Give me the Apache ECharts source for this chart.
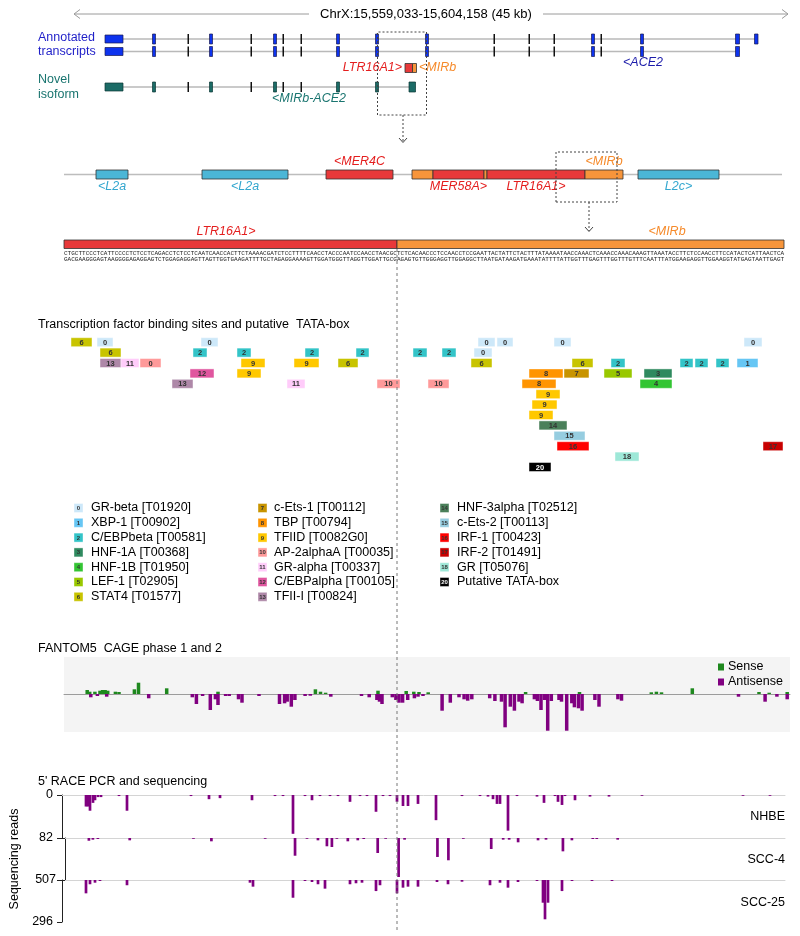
<!DOCTYPE html>
<html>
<head>
<meta charset="utf-8">
<title>ACE2 locus</title>
<script src="https://cdn.jsdelivr.net/npm/echarts@6.0.0/dist/echarts.min.js"></script>
<style>
html,body{margin:0;padding:0;background:#fff;}
#chart{width:800px;height:936px;}
</style>
</head>
<body>
<div id="chart"></div>
<script>
// ================= DATA =================
const regionLabel = 'ChrX:15,559,033-15,604,158 (45 kb)';
// exons [start, end] along the locus (x units)
const annotatedA = [[105,123],[152.5,155.5],[187.5,189],[209.5,212.5],[250.5,252],[273.5,276.5],[282.5,284],[300.5,302],[336.5,339.5],[375.5,378.5],[425.5,428.5],[493.5,495],[528.5,530],[553.5,555],[591.5,594.5],[600.5,602],[640.5,643.5],[735.5,739.5],[754.5,758]];
const annotatedB = [[105,123],[152.5,155.5],[187.5,189],[209.5,212.5],[250.5,252],[273.5,276.5],[282.5,284],[300.5,302],[336.5,339.5],[375.5,378.5],[425.5,428.5],[493.5,495],[528.5,530],[553.5,555],[591.5,594.5],[600.5,602],[640.5,643.5],[735.5,739.5]];
const novelIsoform = [[105,123],[152.5,155.5],[187.5,189],[209.5,212.5],[250.5,252],[273.5,276.5],[282.5,284],[300.5,302],[336.5,339.5],[375.5,378.5],[409,415.5]];
const locusRepeatStart = [405, 412.5];
const locusRepeatEnd = [412.5, 416.5];
const locusRepeatClass = ['LTR', 'MIR'];

// repeat elements (zoom 1)
const repeatStart = [96, 202, 326, 412, 433, 484, 487, 585, 638];
const repeatEnd   = [128, 288, 393, 433, 484, 487, 585, 623, 719];
const repeatClass = ['L2','L2','LTR','MIR','LTR','MIR','LTR','MIR','L2'];
const repeatName  = ['<L2a','<L2a','<MER4C','','MER58A>','','LTR16A1>','<MIRb','L2c>'];
const repeatSide  = ['below','below','above','','below','','below','above','below'];

// sequence level (zoom 2)
const seqBarStart = [64, 397];
const seqBarEnd = [397, 784];
const seqBarClass = ['LTR', 'MIR'];
const seqBarName = ['LTR16A1>', '<MIRb'];
const seqBarLabelAt = [226, 667];
const seqTop = 'CTGCTTCCCTCATTCCCCTCTCCTCAGACCTCTCCTCAATCAACCACTTCTAAAACGATCTCCTTTTCAACCTACCCAATCCAACCTAACGCTCTCACAACCCTCCAACCTCCGAATTACTATTCTACTTTATAAAATAACCAAACTCAAACCAAACAAAGTTAAATACCTTCTCCAACCTTCCATACTCATTAACTCA';

// transcription factor binding sites: [start, end, row, type, (shown label)]
const tfSites = [
 [71,92,0,6],[97,113,0,0],[201,218,0,0],[478,495,0,0],[497,513,0,0],[554,571,0,0],[744,762,0,0],
 [100,121,1,6],[193,207,1,2],[237,251,1,2],[305,319,1,2],[356,369,1,2],[413,427,1,2],[442,456,1,2],[474,492,1,0],
 [100,121,2,13],[121,139,2,11],[140,161,2,10,'0'],[241,265,2,9],[294,319,2,9],[338,358,2,6],[471,492,2,6],[572,593,2,6],[611,625,2,2],[680,693,2,2],[695,708,2,2],[716,729,2,2],[737,758,2,1],
 [190,214,3,12],[237,261,3,9],[529,563,3,8],[564,589,3,7],[604,632,3,5],[644,672,3,3],
 [172,193,4,13],[287,305,4,11],[377,400,4,10],[428,449,4,10],[522,556,4,8],[640,672,4,4],
 [536,560,5,9],[532,557,6,9],[529,553,7,9],[539,567,8,14],[554,585,9,15],
 [557,589,10,16],[763,783,10,17],[615,639,11,18],[529,551,12,20]
];
const tfRows = ['0','1','2','3','4','5','6','7','8','9','10','11','12'];
const tfLegendTypes = [0,1,2,3,4,5,6,7,8,9,10,11,12,13,14,15,16,17,18,20];
const tfLegendNames = ['GR-beta [T01920]','XBP-1 [T00902]','C/EBPbeta [T00581]','HNF-1A [T00368]','HNF-1B [T01950]','LEF-1 [T02905]','STAT4 [T01577]',
 'c-Ets-1 [T00112]','TBP [T00794]','TFIID [T0082G0]','AP-2alphaA [T00035]','GR-alpha [T00337]','C/EBPalpha [T00105]','TFII-I [T00824]',
 'HNF-3alpha [T02512]','c-Ets-2 [T00113]','IRF-1 [T00423]','IRF-2 [T01491]','GR [T05076]','Putative TATA-box'];

// FANTOM5 CAGE
const cageSensePos = [87.2,89.7,94.9,100,102.6,105.1,107.7,115.4,119,134.4,138.5,166.7,218,315.4,320.5,325.6,378,406.2,413.8,419,428.2,525.6,579.5,651.3,656.4,661.5,692.3,759,769.2,787.2];
const cageSenseVal = [4,2.3,2.3,3.3,4,4,3.3,2.3,2,4.7,11.3,5.7,2.3,4.7,2.3,1.3,3.3,3,2.3,2,1.7,2,2,1.7,2.3,1.7,5.7,2,1.3,2];
const cageAntiPos = [90.8,97.4,106.7,148.7,192.3,196.4,202.6,210.3,215.4,218,225.6,229.2,238.5,242,259,279.5,284.6,287.2,291.3,294.9,305.1,310.3,330.8,361.5,369.2,376.9,379.5,382,392.3,395.9,399,402.6,407.7,414.4,418,423,442.1,450.3,459,464.1,467.7,471.8,489.7,494.9,501.5,505.1,510.3,514.4,519,522.1,534.4,537.4,541,544.6,547.7,551.3,559,561.5,566.7,571.8,574.4,578.5,582.1,594.9,599,617.9,621.5,738.5,765.1,776.9,787.2];
const cageAntiVal = [-3.3,-2,-2.7,-4.3,-3.3,-10,-2,-16,-5.3,-11,-2,-2,-5.3,-8.7,-2,-10,-9.3,-7.7,-12.7,-6,-2,-1.7,-2.7,-2,-3.3,-6,-7.7,-10,-3.3,-6,-8.7,-8.7,-6,-4.3,-2.7,-2,-16.7,-8.7,-3.3,-5.3,-6.7,-5.3,-4.3,-7,-7.7,-33.3,-12.7,-16.7,-7.7,-9.3,-5.3,-7,-16,-6,-36.7,-7,-6,-7.7,-36.7,-9.3,-13.3,-14.3,-16.7,-6,-12.7,-5.3,-6.7,-2.7,-7.7,-2.7,-5.3];

// 5' RACE sequencing reads
const raceSamples = ['NHBE', 'SCC-4', 'SCC-25'];
const raceMax = [82, 507, 296];
const nhbePos = [86,88,90,93,95,98,101,119,127,191,209,220,252,275,283,293,305,312,320,330,338,350,360,367,376,383,390,397,403,408,418,436,462,480,488,493,497,500,508,517,537,544,555,558,562,565,575,590,609,642,743,770];
const nhbeReads = [22,22,30,15,10,4,4,2,30,2,8,6,10,2,2,74,2,10,2,2,2,13,2,2,32,2,2,13,21,21,17,48,2,2,3,8,17,17,68,2,3,15,2,13,19,2,10,3,3,1,1,1];
const scc4Pos = [86,90,95,127,191,209,263,293,305,316,325,330,335,346,356,362,376,384,397,403,436,447,462,490,502,508,517,537,545,562,571,592,596,617];
const scc4Reads = [33,20,12,28,8,40,8,214,8,28,100,109,8,40,28,12,181,8,471,20,229,269,8,133,20,20,52,28,20,161,28,12,12,20];
const scc25Pos = [86,90,95,100,127,250,253,293,305,312,318,325,350,356,362,376,380,397,403,408,418,437,448,462,490,500,508,518,537,543,545,548,562,572,592,612];
const scc25Reads = [94,30,19,7,37,19,47,125,7,14,30,61,30,23,19,78,37,94,54,47,47,14,30,12,37,19,54,14,7,160,277,160,78,7,7,7];

// ================= STYLE / LAYOUT =================
const FAM = '"Liberation Sans", Arial, Helvetica, sans-serif';
const font = (s, it, b) => (it ? 'italic ' : '') + (b ? 'bold ' : '') + s + 'px ' + FAM;
const REP_FILL = {L2:'#4bb6d6', LTR:'#e8393a', MIR:'#f7953b'};
const REP_TEXT = {L2:'#33a7cf', LTR:'#e41e1e', MIR:'#f68a2a'};
const TF_COL = {0:'#cde8f9',1:'#66c6f4',2:'#33c4c8',3:'#2f8a5f',4:'#33c533',5:'#99c800',6:'#c8c400',7:'#c89400',8:'#ff9400',9:'#ffc800',10:'#ff9a9a',11:'#ffccfa',12:'#e0569f',13:'#ae88a8',14:'#4a805a',15:'#96cde0',16:'#ff0000',17:'#c80000',18:'#9ee8d8',20:'#000000'};
const BLUE = '#1f1fc8', TEAL = '#1a7570', EXON_BLUE = '#0d33ee', EXON_TEAL = '#1b6b66';
const ROW_A = 39, ROW_B = 51.5, ROW_N = 87, ROW_LREP = 68, REP_Y = 174.5, SEQ_Y = 244;

const chart = echarts.init(document.getElementById('chart'));

function hiddenX(gi, min, max) { return {gridIndex:gi, type:'value', min, max, show:false}; }

// intron lines: from first exon start to last exon end
function intronSeries(list) {
  return {
    type:'custom', xAxisIndex:0, yAxisIndex:0, z:2, encode:{x:[0,1], y:2},
    data: list.map(t => [t[0][0][0], t[0][t[0].length-1][1], t[1]]),
    renderItem: (p, api) => {
      const a = api.coord([api.value(0), api.value(2)]), b = api.coord([api.value(1), api.value(2)]);
      return {type:'line', shape:{x1:a[0], y1:a[1], x2:b[0], y2:b[1]}, style:{stroke:'#b9b9b9', lineWidth:1.6}};
    }
  };
}
function exonSeries(exons, rowY, fill, outline) {
  return {
    type:'custom', xAxisIndex:0, yAxisIndex:0, z:3, encode:{x:[0,1], y:2},
    data: exons.map(e => [e[0], e[1], rowY]),
    renderItem: (p, api) => {
      const a = api.coord([api.value(0), api.value(2)]), b = api.coord([api.value(1), api.value(2)]);
      const w = b[0] - a[0], thin = w < 2, big = w > 10, h = big ? 8 : 10;
      return {type:'rect', shape:{x:a[0], y:a[1]-h/2, width:w, height:h},
        style:{fill: thin ? '#111' : fill, stroke: thin ? null : outline, lineWidth: 0.7}};
    }
  };
}
function labelEl(text, x, y, color, align) {
  return {type:'text', style:{text, x, y, fill:color, font:font(12.5, true), align:align||'center', verticalAlign:'middle'}};
}

const series = [];
series.push(intronSeries([[annotatedA, ROW_A], [annotatedB, ROW_B], [novelIsoform, ROW_N]]));
series.push(exonSeries(annotatedA, ROW_A, EXON_BLUE, '#1a1a50'));
series.push(exonSeries(annotatedB, ROW_B, EXON_BLUE, '#1a1a50'));
series.push(exonSeries(novelIsoform, ROW_N, EXON_TEAL, '#0c3835'));

// locus mini repeat
series.push({
  type:'custom', xAxisIndex:0, yAxisIndex:0, z:3, encode:{x:[0,1], y:2},
  data: locusRepeatStart.map((s, i) => [s, locusRepeatEnd[i], ROW_LREP]),
  renderItem: (p, api) => {
    const a = api.coord([api.value(0), api.value(2)]), b = api.coord([api.value(1), api.value(2)]);
    return {type:'rect', shape:{x:a[0], y:a[1]-4.5, width:b[0]-a[0], height:9},
      style:{fill:REP_FILL[locusRepeatClass[p.dataIndex]], stroke:'#333', lineWidth:0.8}};
  }
});

// repeat track line
series.push({
  type:'custom', xAxisIndex:0, yAxisIndex:0, z:2, encode:{x:[0,1], y:2},
  data: [[64, 782, REP_Y]],
  renderItem: (p, api) => {
    const a = api.coord([api.value(0), api.value(2)]), b = api.coord([api.value(1), api.value(2)]);
    return {type:'line', shape:{x1:a[0], y1:a[1], x2:b[0], y2:b[1]}, style:{stroke:'#bdbdbd', lineWidth:1.3}};
  }
});
// repeat elements
series.push({
  type:'custom', xAxisIndex:0, yAxisIndex:0, z:3, encode:{x:[0,1], y:2},
  data: repeatStart.map((s, i) => [s, repeatEnd[i], REP_Y]),
  renderItem: (p, api) => {
    const i = p.dataIndex, cls = repeatClass[i];
    const a = api.coord([api.value(0), api.value(2)]), b = api.coord([api.value(1), api.value(2)]);
    const ch = [{type:'rect', shape:{x:a[0], y:a[1]-4.5, width:b[0]-a[0], height:9}, style:{fill:REP_FILL[cls], stroke:'#333', lineWidth:0.8}}];
    if (repeatName[i]) {
      const ly = repeatSide[i] === 'above' ? a[1] - 12.5 : a[1] + 12.5;
      ch.push(labelEl(repeatName[i], (a[0]+b[0])/2, ly, REP_TEXT[cls]));
    }
    return {type:'group', children:ch};
  }
});
// sequence bars
series.push({
  type:'custom', xAxisIndex:0, yAxisIndex:0, z:3, encode:{x:[0,1], y:2},
  data: seqBarStart.map((s, i) => [s, seqBarEnd[i], SEQ_Y]),
  renderItem: (p, api) => {
    const i = p.dataIndex, cls = seqBarClass[i];
    const a = api.coord([api.value(0), api.value(2)]), b = api.coord([api.value(1), api.value(2)]);
    const l = api.coord([seqBarLabelAt[i], api.value(2)]);
    return {type:'group', children:[
      {type:'rect', shape:{x:a[0], y:a[1]-4, width:b[0]-a[0], height:8.5}, style:{fill:REP_FILL[cls], stroke:'#333', lineWidth:0.8}},
      labelEl(seqBarName[i], l[0], a[1]-12, REP_TEXT[cls])
    ]};
  }
});

// TF binding sites
series.push({
  type:'custom', xAxisIndex:1, yAxisIndex:1, z:3, encode:{x:[0,1], y:2},
  data: tfSites.map(t => [t[0], t[1], t[2], t[3]]),
  renderItem: (p, api) => {
    const t = tfSites[p.dataIndex], ty = t[3];
    const a = api.coord([api.value(0), api.value(2)]), b = api.coord([api.value(1), api.value(2)]);
    const bh = api.size([0, 1])[1] - 1.4;
    return {type:'group', children:[
      {type:'rect', shape:{x:a[0], y:a[1]-bh/2, width:b[0]-a[0], height:bh}, style:{fill:TF_COL[ty], stroke:'rgba(255,255,255,0.45)', lineWidth:1}},
      {type:'text', style:{text: t[4] !== undefined ? t[4] : String(ty), x:(a[0]+b[0])/2, y:a[1]+0.5, align:'center', verticalAlign:'middle', font:font(7.5, false, true), fill: ty === 20 ? '#fff' : '#333'}}
    ]};
  }
});

// CAGE bars
function barRender(width, color) {
  return (p, api) => {
    const x = api.value(0), v = api.value(1);
    const a = api.coord([x, 0]), b = api.coord([x, v]);
    return {type:'rect', shape:{x:a[0]-width/2, y:Math.min(a[1], b[1]), width, height:Math.max(Math.abs(b[1]-a[1]), 0.8)}, style:{fill:color}};
  };
}
series.push({type:'custom', name:'Sense', xAxisIndex:2, yAxisIndex:2, z:3, data:cageSensePos.map((x,i)=>[x, cageSenseVal[i]]), renderItem:barRender(3.5, '#1e881e')});
series.push({type:'custom', name:'Antisense', xAxisIndex:2, yAxisIndex:2, z:3, data:cageAntiPos.map((x,i)=>[x, cageAntiVal[i]]), renderItem:barRender(3.5, '#800080')});

// RACE bars
const racePos = [nhbePos, scc4Pos, scc25Pos];
const raceReads = [nhbeReads, scc4Reads, scc25Reads];
raceSamples.forEach((name, k) => {
  series.push({type:'custom', name, xAxisIndex:3+k, yAxisIndex:3+k, z:3,
    data: racePos[k].map((x, i) => [x, raceReads[k][i]]), renderItem: barRender(2.7, '#800080')});
});

// ================= AXES / GRIDS =================
const raceTops = [795, 838, 880], raceHeights = [43, 42, 42];
const grid = [
  {left:0, top:0, width:800, height:936},
  {left:0, top:337, width:800, height:135.2},
  {left:64, top:657, width:726, height:75, show:true, backgroundColor:'#f4f4f4', borderWidth:0},
];
const xAxis = [hiddenX(0, 0, 800), hiddenX(1, 0, 800),
  {gridIndex:2, type:'value', min:64, max:790, axisLine:{show:true, onZero:true, lineStyle:{color:'#9c9c9c', width:1}}, axisTick:{show:false}, axisLabel:{show:false}, splitLine:{show:false}}];
const yAxis = [{gridIndex:0, type:'value', min:0, max:936, inverse:true, show:false},
  {gridIndex:1, type:'category', data:tfRows, inverse:true, show:false},
  {gridIndex:2, type:'value', min:-38, max:37, axisLine:{show:false}, axisTick:{show:false}, axisLabel:{show:false}, splitLine:{show:false}}];
raceSamples.forEach((name, k) => {
  grid.push({left:62, top:raceTops[k], width:723, height:raceHeights[k]});
  xAxis.push({gridIndex:3+k, type:'value', min:62, max:785, position:'top',
    axisLine:{show:true, onZero:false, lineStyle:{color:'#d4d4d4', width:1}}, axisTick:{show:false}, axisLabel:{show:false}, splitLine:{show:false}});
  const ya = {gridIndex:3+k, type:'value', inverse:true, min:0, max:raceMax[k], interval:raceMax[k],
    axisLine:{show:true, lineStyle:{color:'#222', width:1}},
    axisTick:{show:true, length:5, lineStyle:{color:'#222'}},
    axisLabel:{show:true, margin:9, color:'#000', fontSize:12.5, fontFamily:FAM, showMinLabel:true, showMaxLabel:true,
      formatter: v => (k > 0 && v === 0) ? '' : String(v)},
    splitLine:{show:false}};
  if (k === 1) {
    Object.assign(ya, {name:'Sequencing reads', nameLocation:'middle', nameGap:44, nameRotate:90,
      nameTextStyle:{fontSize:12.5, fontFamily:FAM, color:'#000'}});
  }
  yAxis.push(ya);
});

// ================= GRAPHIC ANNOTATIONS =================
const G = [];
function T(text, x, y, o) {
  o = o || {};
  G.push({type:'text', x, y, z:50, scaleX:o.sx||1, scaleY:o.sy||1,
    style:{text, x:0, y:0, fill:o.color||'#000', font:o.font||font(12.5, o.italic),
      align:o.align||'left', verticalAlign:'middle', textAlign:o.align||'left', textVerticalAlign:'middle'}});
}
function L(points, o) {
  o = o || {};
  G.push({type:'polyline', z:50, shape:{points}, style:{stroke:o.color||'#9a9a9a', lineWidth:o.w||1, lineDash:o.dash||null, fill:null}});
}
// region arrow
L([[74,14],[309,14]]); L([[80,9.5],[74,14],[80,18.5]]);
L([[543,14],[788,14]]); L([[782,9.5],[788,14],[782,18.5]]);
T(regionLabel, 426, 14, {align:'center', font:font(13)});
// track names
T('Annotated', 38, 38, {color:BLUE}); T('transcripts', 38, 52, {color:BLUE});
T('Novel', 38, 80, {color:TEAL}); T('isoform', 38, 94.5, {color:TEAL});
T('LTR16A1>', 402, 68, {color:REP_TEXT.LTR, italic:true, align:'right'});
T('<MIRb', 419, 68, {color:REP_TEXT.MIR, italic:true});
T('<ACE2', 643, 63, {color:'#1c1caa', italic:true, align:'center'});
T('<MIRb-ACE2', 272, 98.5, {color:TEAL, italic:true});
// dashed zoom boxes & arrows
L([[377.5,115],[377.5,32],[426.5,32],[426.5,115],[377.5,115]], {color:'#444', dash:[2,2]});
L([[403,115],[403,142]], {color:'#444', dash:[2,2]}); L([[399,138],[403,142.5],[407,138]], {color:'#444'});
L([[556,202],[556,152],[617,152],[617,202],[556,202]], {color:'#444', dash:[2,2]});
L([[589,202],[589,231]], {color:'#444', dash:[2,2]}); L([[585,227],[589,231.5],[593,227]], {color:'#444'});
// sequence text
const comp = {A:'T', T:'A', C:'G', G:'C'};
const seqBottom = seqTop.split('').map(c => comp[c]).join('');
const seqScale = 720 / (seqTop.length * 0.6 * 5);
T(seqTop, 64, 254, {font:'5px "Liberation Mono", "DejaVu Sans Mono", monospace', sx:seqScale, color:'#222'});
T(seqBottom, 64, 259.5, {font:'5px "Liberation Mono", "DejaVu Sans Mono", monospace', sx:seqScale, color:'#222'});
// junction line
L([[397,249],[397,932]], {color:'#777', dash:[3,3]});
// titles
T('Transcription factor binding sites and putative  TATA-box', 38, 325);
T('FANTOM5  CAGE phase 1 and 2', 38, 649);
T("5' RACE PCR and sequencing", 38, 782);
// TF legend
const colX = [74, 258, 440], colTextX = [91, 274, 457];
tfLegendTypes.forEach((ty, i) => {
  const c = Math.floor(i / 7), r = i % 7, y = 508 + r * 14.8;
  G.push({type:'rect', z:50, shape:{x:colX[c], y:y-4.5, width:9, height:9}, style:{fill:TF_COL[ty], stroke:'rgba(255,255,255,0.5)', lineWidth:0.8}});
  T(String(ty), colX[c] + 4.5, y + 0.3, {align:'center', font:font(6, false, true), color: ty === 20 ? '#fff' : '#333'});
  T(tfLegendNames[i], colTextX[c], y);
});
// CAGE legend
G.push({type:'rect', z:50, shape:{x:718, y:663.5, width:6, height:7}, style:{fill:'#1e881e'}});
G.push({type:'rect', z:50, shape:{x:718, y:678.5, width:6, height:7}, style:{fill:'#800080'}});
T('Sense', 728, 667); T('Antisense', 728, 682);
// RACE sample names
T('NHBE', 785, 817, {align:'right'}); T('SCC-4', 785, 860, {align:'right'}); T('SCC-25', 785, 903, {align:'right'});

chart.setOption({
  animation:false,
  backgroundColor:'#ffffff',
  grid, xAxis, yAxis, series,
  graphic:{elements:G}
});
</script>
</body>
</html>
